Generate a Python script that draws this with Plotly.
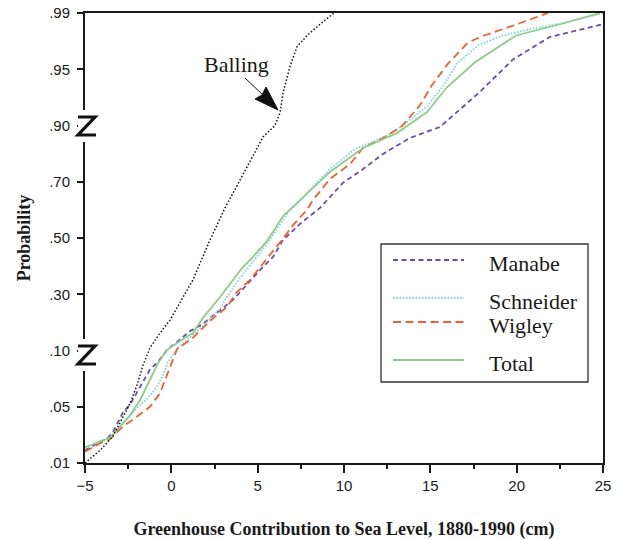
import numpy as np
import plotly.graph_objects as go

# ---------------- data ----------------
PROB_LEVELS = [0.01, 0.05, 0.10, 0.30, 0.50, 0.70, 0.90, 0.95, 0.99]
PROB_LABELS = [".01", ".05", ".10", ".30", ".50", ".70", ".90", ".95", ".99"]
X_TICKS = [-5, 0, 5, 10, 15, 20, 25]

manabe_x = [-5.00, -3.67, -3.38, -2.80, -2.39, -1.81, -1.24, -0.77, -0.25, 0.33, 1.08, 1.83,
            2.24, 2.99, 3.57, 4.15, 4.73, 5.13, 5.89, 6.47, 7.45, 8.61, 9.94, 11.10, 12.26,
            13.82, 15.56, 16.54, 17.88, 19.79, 21.93, 25.00]
manabe_p = [.019, .028, .032, .046, .052, .068, .083, .090, .102, .130, .169, .194,
            .216, .251, .280, .319, .358, .386, .433, .493, .550, .607, .696, .745, .799,
            .856, .895, .912, .930, .957, .973, .982]

schneider_x = [-5.00, -3.55, -2.57, -1.99, -1.41, -0.83, -0.48, -0.19, 0.33, 0.50, 1.25, 2.07,
               2.82, 3.22, 3.98, 4.73, 5.54, 6.70, 7.86, 9.19, 10.64, 11.51, 12.78, 13.82,
               14.86, 15.73, 16.54, 17.76, 19.21, 20.95, 22.80, 25.00]
schneider_p = [.021, .028, .041, .049, .057, .068, .078, .090, .105, .116, .155, .201,
               .248, .290, .358, .415, .479, .585, .660, .745, .817, .838, .873, .905,
               .918, .935, .954, .967, .974, .979, .983, .990]

wigley_x = [-5.00, -4.13, -3.55, -2.80, -1.99, -1.24, -0.66, -0.25, 0.33, 1.25, 2.24, 3.22,
            3.80, 4.56, 5.13, 5.89, 6.41, 7.05, 7.86, 8.20, 9.19, 10.35, 11.10, 12.37,
            13.36, 14.40, 15.10, 16.02, 17.18, 18.11, 20.02, 21.81]
wigley_p = [.018, .024, .027, .036, .043, .050, .062, .078, .105, .145, .205, .255,
            .308, .351, .397, .454, .493, .546, .600, .635, .710, .763, .820, .859,
            .898, .918, .936, .954, .969, .974, .982, .990]

total_x = [-5.00, -3.55, -2.39, -1.81, -1.24, -0.77, -0.25, 0.50, 1.25, 1.83, 2.82, 4.09,
           4.73, 5.54, 6.47, 7.45, 9.19, 11.10, 13.07, 14.81, 15.96, 17.59, 19.96, 22.51, 24.83]
total_p = [.021, .028, .044, .056, .074, .089, .102, .134, .162, .216, .290, .393,
           .433, .489, .578, .635, .735, .820, .873, .912, .934, .955, .974, .982, .990]

balling_x = [-5.00, -4.13, -3.38, -2.86, -2.39, -1.99, -1.64, -1.24, -0.66, -0.08, 0.50, 1.25,
             2.24, 3.11, 4.38, 5.31, 6.00, 6.29, 6.47, 6.87, 7.28, 7.86, 8.61, 9.42]
balling_p = [.010, .019, .029, .041, .053, .069, .087, .109, .162, .208, .269, .351,
             .493, .607, .752, .859, .900, .911, .929, .952, .966, .974, .982, .990]

SERIES_NAMES = ["Manabe", "Schneider", "Wigley", "Total"]

# ---------------- styling ----------------
SERIF = "Liberation Serif, Times New Roman, serif"
SANS = "Liberation Sans, Arial, sans-serif"
INK = "#1a1a1a"
COL = {"Manabe": "#6a4cb0", "Schneider": "#7fd3dc", "Wigley": "#f0602f", "Total": "#8fcc8c"}
DASH = {"Manabe": "5px,3.5px", "Schneider": "1.6px,1.6px", "Wigley": "8px,4.5px", "Total": "solid"}
WID = {"Manabe": 1.8, "Schneider": 1.8, "Wigley": 1.8, "Total": 1.8}

W, H = 620, 540
L, R, T, B = 85, 17, 13, 77
PW, PH = W - L - R, H - T - B


def px(x):
    return (x - L) / PW


def py(y):
    return (H - B - y) / PH


def prob_pos(p):
    return np.interp(p, PROB_LEVELS, np.arange(len(PROB_LEVELS)))


fig = go.Figure()
data = {
    "Manabe": (manabe_x, manabe_p),
    "Schneider": (schneider_x, schneider_p),
    "Wigley": (wigley_x, wigley_p),
    "Total": (total_x, total_p),
}
for name in SERIES_NAMES:
    xs, ps = data[name]
    fig.add_trace(go.Scatter(x=xs, y=prob_pos(ps), mode="lines", name=name, showlegend=False,
                             line=dict(color=COL[name], width=WID[name], dash=DASH[name])))
fig.add_trace(go.Scatter(x=balling_x, y=prob_pos(balling_p), mode="lines", name="Balling",
                         showlegend=False, line=dict(color="#111", width=1.5, dash="1.5px,2px")))

shapes = []
annotations = []

# legend box
shapes.append(dict(type="rect", xref="paper", yref="paper", x0=px(381), x1=px(588),
                   y0=py(382), y1=py(244), line=dict(color="#333", width=1.3), fillcolor="white",
                   layer="above"))
leg_line_y = {"Manabe": 260, "Schneider": 298, "Wigley": 322, "Total": 360}
leg_text_y = {"Manabe": 263, "Schneider": 301, "Wigley": 326, "Total": 363}
for name in SERIES_NAMES:
    shapes.append(dict(type="line", xref="paper", yref="paper", x0=px(393), x1=px(464),
                       y0=py(leg_line_y[name]), y1=py(leg_line_y[name]), layer="above",
                       line=dict(color=COL[name], width=WID[name], dash=DASH[name])))
    annotations.append(dict(xref="paper", yref="paper", x=px(487), y=py(leg_text_y[name]),
                            text=name, showarrow=False, xanchor="left", yanchor="middle",
                            font=dict(family=SERIF, size=22, color=INK)))

# axis break "Z" marks
for cy in (126, 355):
    shapes.append(dict(type="rect", xref="paper", yref="paper", x0=px(78), x1=px(93),
                       y0=py(cy + 16), y1=py(cy - 16), line=dict(width=0), fillcolor="white",
                       layer="above"))
    path = "M {},{} L {},{} L {},{} L {},{}".format(
        px(78), py(cy - 9), px(95), py(cy - 9), px(78), py(cy + 9), px(96), py(cy + 9))
    shapes.append(dict(type="path", xref="paper", yref="paper", path=path, layer="above",
                       line=dict(color="#111", width=3.2)))

# Balling label + arrow
annotations.append(dict(xref="paper", yref="paper", x=px(236), y=py(65), text="Balling",
                        showarrow=False, xanchor="center", yanchor="middle",
                        font=dict(family=SERIF, size=22, color=INK)))
shapes.append(dict(type="line", xref="paper", yref="paper", x0=px(245), y0=py(78),
                   x1=px(263), y1=py(95), line=dict(color="#111", width=1), layer="above"))
head = "M {},{} L {},{} L {},{} L {},{} Z".format(
    px(278), py(110), px(255), py(99), px(262), py(95), px(266), py(87))
shapes.append(dict(type="path", xref="paper", yref="paper", path=head, fillcolor="#111",
                   line=dict(color="#111", width=1), layer="above"))

fig.update_layout(
    width=W, height=H,
    margin=dict(l=L, r=R, t=T, b=B, autoexpand=False),
    paper_bgcolor="white", plot_bgcolor="white",
    showlegend=False,
    shapes=shapes, annotations=annotations,
    xaxis=dict(
        range=[-5, 25], tickmode="array", tickvals=X_TICKS,
        ticks="outside", ticklen=8, tickwidth=1.5, tickcolor=INK,
        minor=dict(tick0=-5, dtick=2.5, ticks="outside", ticklen=4, tickwidth=1.5, tickcolor=INK),
        showline=True, linewidth=2, linecolor=INK, mirror=True,
        showgrid=False, zeroline=False,
        tickfont=dict(family=SANS, size=15, color=INK),
        title=dict(text="<b>Greenhouse Contribution to Sea Level, 1880-1990 (cm)</b>",
                   font=dict(family=SERIF, size=18, color=INK), standoff=29),
    ),
    yaxis=dict(
        range=[0, 8], tickmode="array", tickvals=list(range(len(PROB_LEVELS))),
        ticktext=PROB_LABELS,
        ticks="outside", ticklen=6, tickwidth=1.5, tickcolor=INK,
        showline=True, linewidth=2, linecolor=INK, mirror=True,
        showgrid=False, zeroline=False, ticklabelstandoff=4,
        tickfont=dict(family=SANS, size=15, color=INK),
        title=dict(text="<b>Probability</b>",
                   font=dict(family=SERIF, size=18, color=INK), standoff=14),
    ),
)

# remove the default 8px page margin so the figure fills the 620x540 window exactly
fig.write_html("out.html", config={"displayModeBar": False},
               post_script="document.body.style.margin='0';")
